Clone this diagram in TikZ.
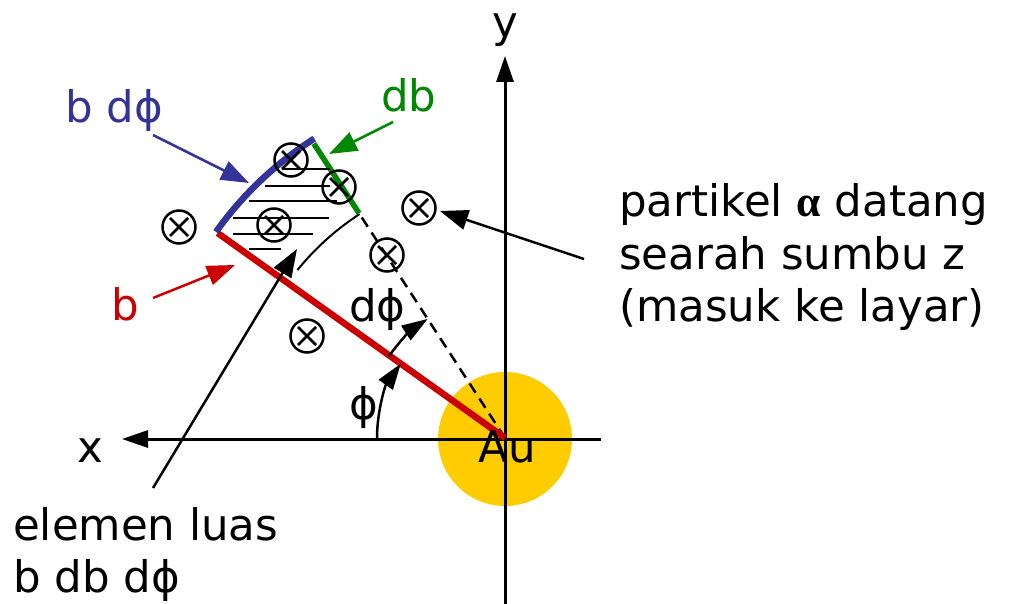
\documentclass[tikz,border=0pt]{standalone}
\usepackage{fontspec}
\setmainfont{DejaVu Sans}
\newfontfamily\alphafont{Liberation Serif}
\usetikzlibrary{arrows.meta,calc}
\definecolor{auyellow}{HTML}{FFCC00}
\definecolor{lblue}{HTML}{333399}
\definecolor{lgreen}{HTML}{008800}
\definecolor{lred}{HTML}{CC0000}
\begin{document}
\begin{tikzpicture}[x=1pt,y=-1pt,
  lbl/.style={font=\fontsize{43.5}{53}\selectfont, inner sep=0pt, anchor=base west},
  tipped/.style={-{Triangle[length=26pt,width=17pt]}},
  ptr/.style={-{Triangle[length=28pt,width=20pt]}, line width=2.5pt},
  xc/.style={circle,draw,line width=2.5pt,minimum size=33pt,inner sep=0pt,
    path picture={
      \draw[line width=2.5pt] ($(path picture bounding box.center)+(-9,-9)$) -- ($(path picture bounding box.center)+(9,9)$);
      \draw[line width=2.5pt] ($(path picture bounding box.center)+(-9,9)$) -- ($(path picture bounding box.center)+(9,-9)$);
    }},
  hatch/.style={line width=2.5pt}
]
\useasboundingbox (0,0) rectangle (1010,604);
\coordinate (O) at (505,438);

% gold nucleus
\node[circle, fill=auyellow, minimum size=134pt, inner sep=0pt] (au) at (505,439) {};

% axes
\coordinate (xr) at (601,439);
\coordinate (xl) at (122,439);
\coordinate (yb) at (505,604);
\coordinate (yt) at (505,56);
\draw[tipped, line width=3pt] (xr) -- (xl);
\draw[tipped, line width=3pt] (yb) -- (yt);

% rays
\coordinate (R) at ($(O)+(-144.5:353)$);
\coordinate (G1) at ($(O)+(-123:268)$);
\coordinate (G2) at ($(O)+(-123:351)$);
\draw[line width=2.5pt, dash pattern=on 11pt off 7pt] (O) -- (G1);
\draw[lred, line width=6.5pt] (O) -- (R);
\draw[lgreen, line width=5.5pt] (G1) -- (G2);
\draw[lblue, line width=6.5pt] ($(O)+(-144.5:355)$) arc[start angle=-144.5, end angle=-122.5, radius=355];

% hatching
\draw[hatch] (282,169) -- (330,169);
\draw[hatch] (265,186) -- (330,186);
\draw[hatch] (249,201) -- (337,201);
\draw[hatch] (233,218) -- (329,218);
\draw[hatch] (233,234) -- (313,234);
\draw[hatch] (249,249) -- (281,249);

% inner arc
\draw[line width=2pt] ($(O)+(-123:267)$) arc[start angle=-123, end angle=-141, radius=267];

% angle arrows
\draw[tipped, line width=2.5pt] ($(O)+(-180:128)$) arc[start angle=-180, end angle=-144.5, radius=128];
\draw[tipped, line width=2.5pt] ($(O)+(-145:142)$) arc[start angle=-145, end angle=-123, radius=142];

% particles
\node[xc] (c1) at (291,160) {};
\node[xc] (c2) at (339,187) {};
\node[xc] (c3) at (274,225) {};
\node[xc] (c4) at (179,227) {};
\node[xc] (c5) at (387,255) {};
\node[xc] (c6) at (419,208) {};
\node[xc] (c7) at (307,336) {};

% labels
\node[lbl, text=lblue] (tbdphi) at (65,123) {b dϕ};
\node[lbl, text=lgreen] (tdb) at (381,112) {db};
\node[lbl, text=lred] (tb) at (111,320) {b};
\node[lbl, anchor=base] (tx) at (90,462) {x};
\node[lbl, anchor=base] (ty) at (505,38) {y};
\node[lbl, anchor=base] (tau) at (507,462) {Au};
\node[lbl, anchor=center] (tphi) at (364,407) {ϕ};
\node[lbl] (tdphi) at (349,322) {dϕ};
\node[lbl] (p1) at (619,217) {partikel {\alphafont\bfseries α} datang};
\node[lbl] (p2) at (619,270) {searah sumbu z};
\node[lbl] (p3) at (619,322) {(masuk ke layar)};
\node[lbl] (e1) at (13,540) {elemen luas};
\node[lbl] (e2) at (13,592) {b db dϕ};

% pointer arrows
\coordinate (ab1) at (153,135); \coordinate (ab2) at (249,183);
\coordinate (ag1) at (393,122); \coordinate (ag2) at (329,154);
\coordinate (ar1) at (153,298); \coordinate (ar2) at (235,265);
\coordinate (ae1) at (153,488); \coordinate (ae2) at (297,249);
\coordinate (ap1) at (584,259); \coordinate (ap2) at (440,211);
\draw[ptr, lblue] (ab1) -- (ab2);
\draw[ptr, lgreen] (ag1) -- (ag2);
\draw[ptr, lred] (ar1) -- (ar2);
\draw[ptr] (ae1) -- (ae2);
\draw[ptr] (ap1) -- (ap2);
\end{tikzpicture}
\end{document}
